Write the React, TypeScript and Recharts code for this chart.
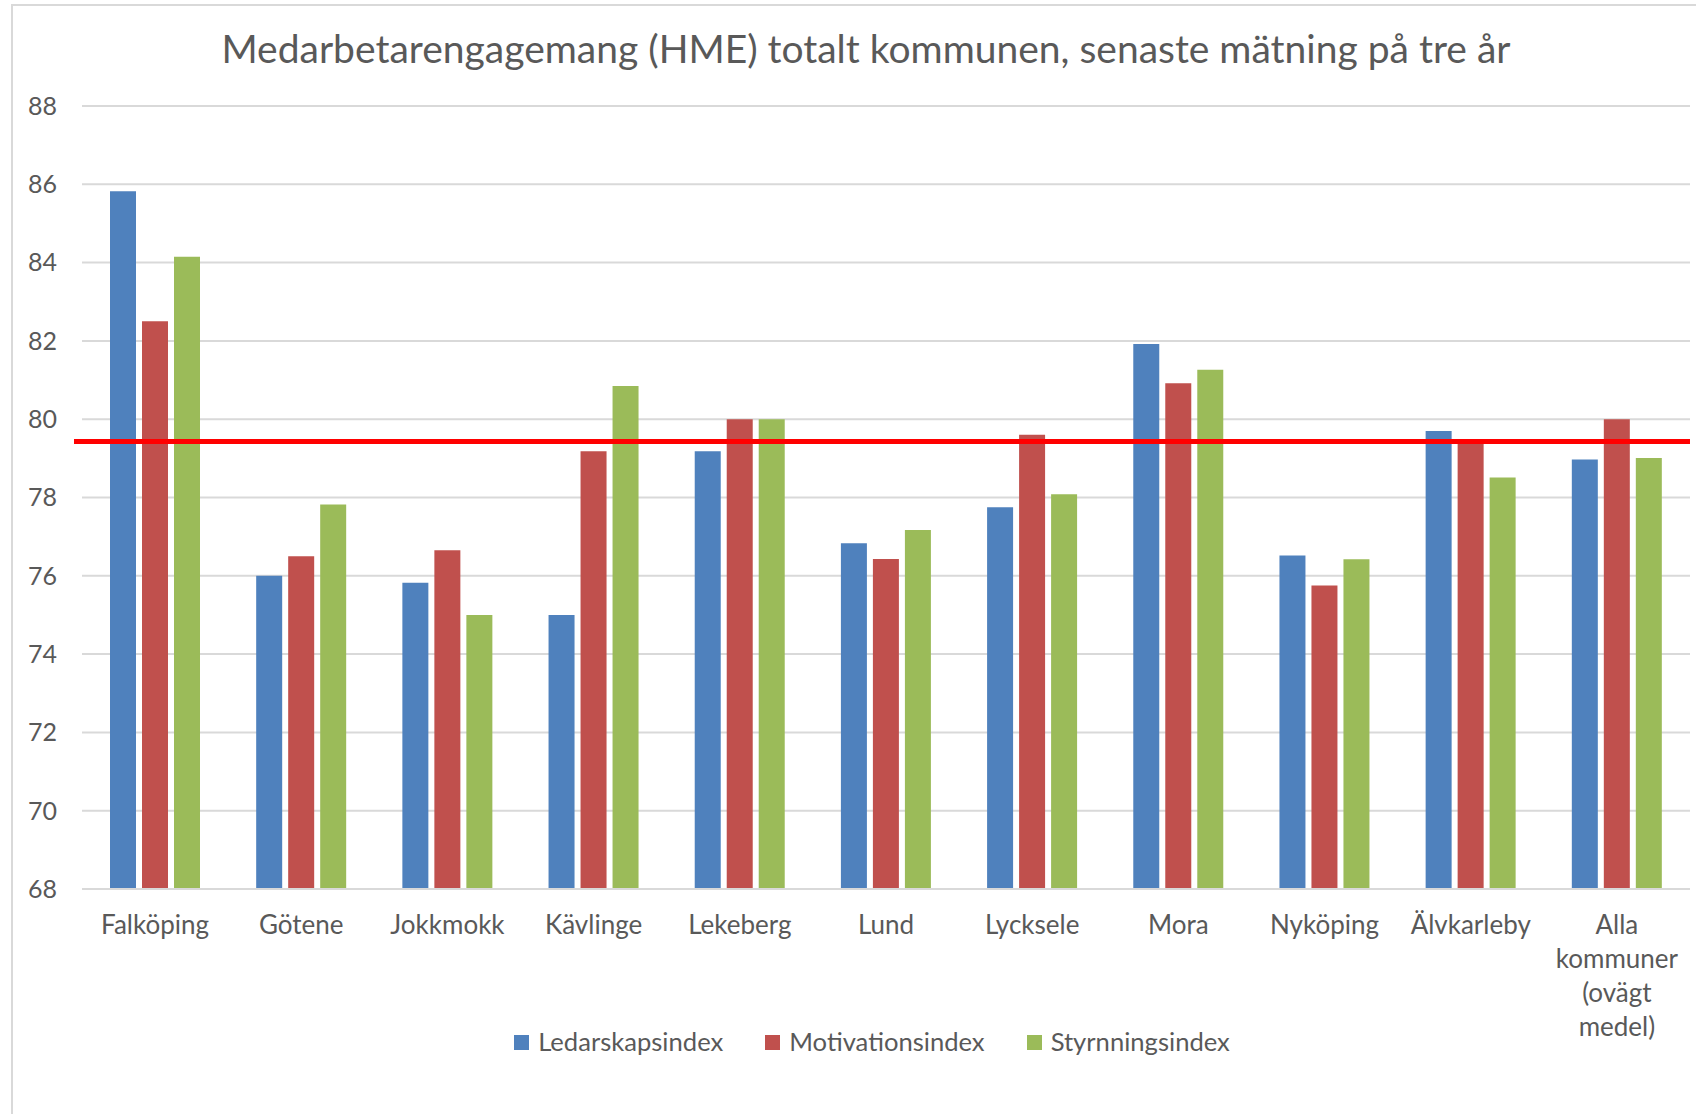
import React from 'react';
import { ComposedChart, Bar, XAxis, YAxis, CartesianGrid, ReferenceLine, Legend } from 'recharts';

const categories = [
  'Falköping',
  'Götene',
  'Jokkmokk',
  'Kävlinge',
  'Lekeberg',
  'Lund',
  'Lycksele',
  'Mora',
  'Nyköping',
  'Älvkarleby',
  'Alla kommuner (ovägt medel)',
];
const ledarskapsindex = [85.82, 76.0, 75.82, 75.0, 79.18, 76.83, 77.75, 81.92, 76.52, 79.7, 78.97];
const motivationsindex = [82.5, 76.5, 76.65, 79.18, 80.0, 76.43, 79.6, 80.92, 75.75, 79.45, 80.0];
const styrningsindex = [84.15, 77.82, 75.0, 80.85, 80.0, 77.17, 78.08, 81.26, 76.42, 78.51, 79.01];
const yTicks = [68, 70, 72, 74, 76, 78, 80, 82, 84, 86, 88];
const averageValue = 79.43;
const seriesNames = ['Ledarskapsindex', 'Motivationsindex', 'Styrnningsindex'];
const seriesColors = ['#4f81bd', '#c0504d', '#9bbb59'];
const title = 'Medarbetarengagemang (HME) totalt kommunen, senaste mätning på tre år';

const data = categories.map((c, i) => ({
  name: c,
  l: ledarskapsindex[i],
  m: motivationsindex[i],
  s: styrningsindex[i],
}));

const FONT = 'Lato, "Open Sans", sans-serif';
const TEXT = '#595959';

const XTick = (props: any) => {
  const { x, y, payload } = props;
  const lines = String(payload.value).split(' ');
  return (
    <text x={x} y={y} textAnchor="middle" fill={TEXT} fontSize={26} fontFamily={FONT}>
      {lines.map((ln: string, i: number) => (
        <tspan key={i} x={x} dy={i === 0 ? 45 : 34}>
          {ln}
        </tspan>
      ))}
    </text>
  );
};

const RedLine = (props: any) => {
  const { x1, x2, y1, y2 } = props;
  if (x1 == null) return null;
  return <line x1={x1 - 8} y1={y1} x2={x2} y2={y2} stroke="#ff0000" strokeWidth={5} />;
};

const LegendContent = () => (
  <div
    style={{
      display: 'flex',
      justifyContent: 'center',
      alignItems: 'center',
      fontFamily: FONT,
      fontSize: 25.6,
      lineHeight: '30px',
      color: TEXT,
    }}
  >
    {seriesNames.map((n, i) => (
      <div key={n} style={{ display: 'flex', alignItems: 'center', marginLeft: i === 0 ? 0 : 42 }}>
        <div style={{ width: 15, height: 15, background: seriesColors[i], marginRight: 9, marginTop: 2 }} />
        <span>{n}</span>
      </div>
    ))}
  </div>
);

export default function App() {
  return (
    <div style={{ position: 'absolute', left: 0, top: 0, width: 1696, height: 1114, overflow: 'hidden', background: '#fff' }}>
      <div
        style={{
          position: 'absolute',
          left: 11,
          top: 4,
          width: 1800,
          height: 1200,
          borderLeft: '2px solid #d9d9d9',
          borderTop: '2px solid #d9d9d9',
        }}
      />
      <svg style={{ position: 'absolute', left: 0, top: 0 }} width={1696} height={80}>
        <text x={866} y={63} textAnchor="middle" fill={TEXT} fontSize={39} fontFamily={FONT}>
          {title}
        </text>
      </svg>
      <div style={{ position: 'absolute', left: 0, top: 0 }}>
        <ComposedChart
          width={1696}
          height={1114}
          data={data}
          margin={{ top: 106, right: 6, bottom: 165, left: 0 }}
          barSize={26}
          barGap={6}
        >
          <CartesianGrid vertical={false} stroke="#d9d9d9" strokeWidth={2} />
          <XAxis
            dataKey="name"
            axisLine={{ stroke: '#d9d9d9', strokeWidth: 2 }}
            tickLine={false}
            tickSize={0}
            tickMargin={0}
            height={60}
            interval={0}
            tick={<XTick />}
          />
          <YAxis
            domain={[68, 88]}
            ticks={yTicks}
            width={82}
            axisLine={false}
            tickLine={false}
            tickSize={0}
            tickMargin={25}
            tick={{ fill: TEXT, fontSize: 25, fontFamily: FONT }}
            interval={0}
          />
          <Bar dataKey="l" name={seriesNames[0]} fill={seriesColors[0]} isAnimationActive={false} />
          <Bar dataKey="m" name={seriesNames[1]} fill={seriesColors[1]} isAnimationActive={false} />
          <Bar dataKey="s" name={seriesNames[2]} fill={seriesColors[2]} isAnimationActive={false} />
          <ReferenceLine y={averageValue} stroke="#ff0000" strokeWidth={5} shape={<RedLine />} ifOverflow="visible" />
          <Legend
            verticalAlign="middle"
            align="center"
            layout="horizontal"
            wrapperStyle={{ top: 1026, left: 0, width: 1744, height: 30 }}
            content={<LegendContent />}
          />
        </ComposedChart>
      </div>
    </div>
  );
}
